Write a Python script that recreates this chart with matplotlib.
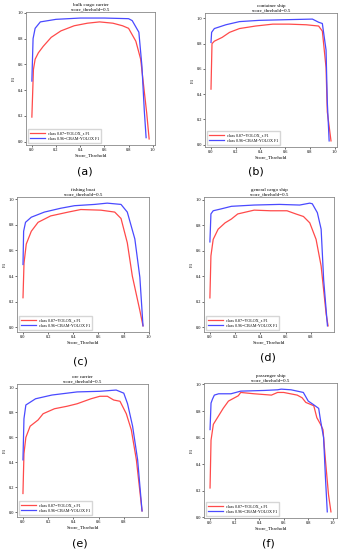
#!/usr/bin/env python3
"""F1 vs score threshold curves, YOLOX_s vs CBAM-YOLOX, six ship classes."""

import matplotlib
matplotlib.use("Agg")
import matplotlib.pyplot as plt

plt.rcParams["font.family"] = ["Liberation Serif", "DejaVu Serif"]

W, H = 343, 550

titles = ["bulk cargo carrier", "container ship", "fishing boat",
          "general cargo ship", "ore carrier", "passenger ship"]
panel_tags = ["(a)", "(b)", "(c)", "(d)", "(e)", "(f)"]
label_red = "class 0.87=YOLOX_s F1"
label_blue = "class 0.96=CBAM-YOLOX F1"

# (a) bulk cargo carrier
a_red_x = [0.0, 0.013, 0.027, 0.054, 0.094, 0.16, 0.24, 0.35, 0.46, 0.56, 0.67, 0.75,
           0.80, 0.86, 0.90, 0.925, 0.95, 0.97]
a_red_y = [0.19, 0.56, 0.64, 0.69, 0.74, 0.81, 0.86, 0.90, 0.92, 0.93, 0.92, 0.90,
           0.88, 0.78, 0.64, 0.43, 0.22, 0.02]
a_blue_x = [0.0, 0.01, 0.027, 0.07, 0.2, 0.4, 0.6, 0.8, 0.83, 0.885, 0.91, 0.93, 0.945]
a_blue_y = [0.47, 0.80, 0.88, 0.93, 0.95, 0.96, 0.96, 0.955, 0.94, 0.85, 0.59, 0.24, 0.03]

# (b) container ship
b_red_x = [0.0, 0.008, 0.027, 0.09, 0.15, 0.23, 0.36, 0.5, 0.63, 0.77, 0.87, 0.9,
           0.93, 0.94, 0.97]
b_red_y = [0.44, 0.80, 0.82, 0.85, 0.89, 0.92, 0.94, 0.955, 0.955, 0.95, 0.94, 0.90,
           0.61, 0.26, 0.03]
b_blue_x = [0.0, 0.005, 0.027, 0.12, 0.23, 0.39, 0.6, 0.82, 0.87, 0.9, 0.93, 0.94, 0.955]
b_blue_y = [0.81, 0.89, 0.92, 0.95, 0.975, 0.985, 0.99, 0.995, 0.97, 0.96, 0.75, 0.34, 0.03]

# (c) fishing boat
c_red_x = [0.0, 0.008, 0.026, 0.066, 0.12, 0.22, 0.36, 0.46, 0.62, 0.73, 0.78, 0.83,
           0.87, 0.93, 0.955]
c_red_y = [0.23, 0.50, 0.65, 0.75, 0.82, 0.87, 0.90, 0.92, 0.915, 0.90, 0.85, 0.66,
           0.40, 0.13, 0.01]
c_blue_x = [0.0, 0.005, 0.02, 0.066, 0.17, 0.3, 0.41, 0.57, 0.67, 0.78, 0.83, 0.89,
            0.93, 0.955]
c_blue_y = [0.49, 0.75, 0.82, 0.86, 0.90, 0.93, 0.95, 0.96, 0.97, 0.96, 0.90, 0.69,
            0.39, 0.01]

# (d) general cargo ship
d_red_x = [0.0, 0.008, 0.026, 0.065, 0.12, 0.17, 0.22, 0.35, 0.48, 0.55, 0.61, 0.68,
           0.74, 0.79, 0.84, 0.88, 0.92, 0.935]
d_red_y = [0.23, 0.56, 0.69, 0.77, 0.82, 0.85, 0.89, 0.92, 0.915, 0.915, 0.915, 0.89,
           0.87, 0.82, 0.69, 0.48, 0.10, 0.01]
d_blue_x = [0.0, 0.008, 0.026, 0.09, 0.17, 0.35, 0.55, 0.71, 0.79, 0.81, 0.85, 0.88,
            0.90, 0.93]
d_blue_y = [0.67, 0.89, 0.915, 0.93, 0.95, 0.96, 0.965, 0.96, 0.975, 0.97, 0.90, 0.77,
            0.37, 0.01]

# (e) ore carrier
e_red_x = [0.0, 0.008, 0.023, 0.057, 0.12, 0.16, 0.25, 0.35, 0.43, 0.54, 0.61, 0.67,
           0.72, 0.77, 0.82, 0.86, 0.90, 0.945]
e_red_y = [0.15, 0.47, 0.60, 0.69, 0.74, 0.79, 0.83, 0.85, 0.87, 0.91, 0.93, 0.93,
           0.90, 0.89, 0.79, 0.66, 0.42, 0.01]
e_blue_x = [0.0, 0.008, 0.023, 0.1, 0.23, 0.43, 0.61, 0.74, 0.80, 0.83, 0.87, 0.91, 0.945]
e_blue_y = [0.42, 0.75, 0.86, 0.91, 0.94, 0.965, 0.97, 0.98, 0.955, 0.87, 0.69, 0.42, 0.01]

# (f) passenger ship
f_red_x = [0.0, 0.008, 0.027, 0.067, 0.107, 0.15, 0.23, 0.25, 0.36, 0.5, 0.55, 0.6,
           0.71, 0.75, 0.78, 0.845, 0.87, 0.9, 0.92, 0.94, 0.965, 0.985]
f_red_y = [0.22, 0.58, 0.70, 0.76, 0.82, 0.875, 0.915, 0.94, 0.93, 0.92, 0.94, 0.94,
           0.92, 0.90, 0.865, 0.84, 0.75, 0.70, 0.66, 0.43, 0.17, 0.04]
f_blue_x = [0.0, 0.008, 0.02, 0.035, 0.07, 0.17, 0.25, 0.44, 0.55, 0.58, 0.66, 0.76,
            0.80, 0.84, 0.885, 0.90, 0.925, 0.94, 0.955]
f_blue_y = [0.66, 0.86, 0.89, 0.92, 0.93, 0.93, 0.95, 0.955, 0.96, 0.965, 0.96, 0.94,
            0.875, 0.85, 0.82, 0.73, 0.60, 0.30, 0.04]

curves = [
    (a_red_x, a_red_y, a_blue_x, a_blue_y),
    (b_red_x, b_red_y, b_blue_x, b_blue_y),
    (c_red_x, c_red_y, c_blue_x, c_blue_y),
    (d_red_x, d_red_y, d_blue_x, d_blue_y),
    (e_red_x, e_red_y, e_blue_x, e_blue_y),
    (f_red_x, f_red_y, f_blue_x, f_blue_y),
]

# axes boxes in pixels: left, right, top, bottom
boxes = [(26, 155, 12, 145), (205, 337, 13, 147),
         (17, 149, 197, 332), (204, 334, 197, 332),
         (17, 148, 384, 517), (204, 337, 383, 518)]
tag_pos = [(85, 172), (256, 172), (80, 361), (268, 357), (80, 543), (268, 543)]

fig = plt.figure(figsize=(W / 100, H / 100), dpi=100)
fig.patch.set_facecolor("white")

for i, (l, r, t, b) in enumerate(boxes):
    ax = fig.add_axes([l / W, 1 - b / H, (r - l) / W, (b - t) / H])
    rx, ry, bx, by = curves[i]
    ax.plot(rx, ry, color="#ff4a4a", lw=0.9, label=label_red)
    ax.plot(bx, by, color="#4a4aff", lw=0.9, label=label_blue)
    ax.set_title(titles[i] + "\nscore_threhold=0.5", fontsize=3.6, pad=1.5,
                 linespacing=1.0)
    ax.set_xlabel("Score_Threhold", fontsize=3.6, labelpad=1)
    ax.set_ylabel("F1", fontsize=3.6, labelpad=1.5)
    ax.tick_params(labelsize=3.2, length=1.2, width=0.4, pad=1)
    ax.set_yticks([0.0, 0.2, 0.4, 0.6, 0.8, 1.0])
    for s in ax.spines.values():
        s.set_color("#888888")
        s.set_linewidth(0.6)
    ax.legend(loc="lower left", fontsize=3.0, frameon=True, handlelength=3.5,
              borderpad=0.5, labelspacing=0.4, fancybox=False, edgecolor="#cccccc")
    fig.text(tag_pos[i][0] / W, 1 - tag_pos[i][1] / H, panel_tags[i],
             fontsize=8, ha="center", va="center", family=["DejaVu Sans"])

fig.savefig("out.png", dpi=100)
